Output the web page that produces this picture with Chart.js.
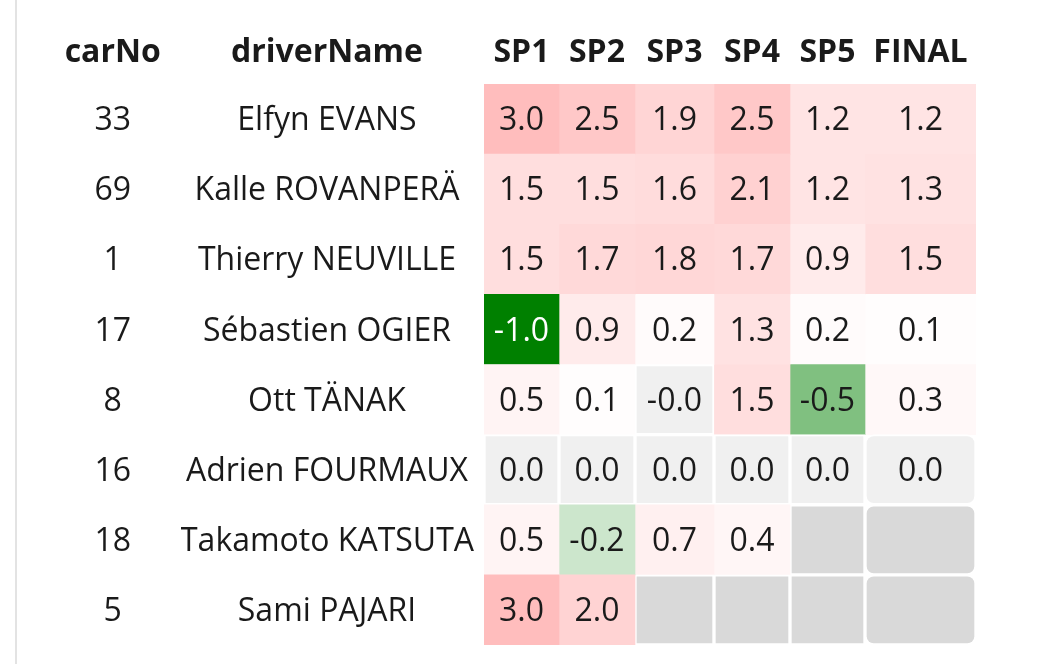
<!DOCTYPE html>
<html>
<head>
<meta charset="utf-8">
<script src="https://cdn.jsdelivr.net/npm/chart.js@4.4.1/dist/chart.umd.min.js"></script>
<style>
  body { margin: 0; background: #fff; }
  #wrap { position: relative; width: 1038px; height: 664px; }
</style>
</head>
<body>
<div id="wrap"><canvas id="heat"></canvas></div>
<script>
const carNos = ['33', '69', '1', '17', '8', '16', '18', '5'];
const driverNames = ['Elfyn EVANS', 'Kalle ROVANPERÄ', 'Thierry NEUVILLE', 'Sébastien OGIER',
    'Ott TÄNAK', 'Adrien FOURMAUX', 'Takamoto KATSUTA', 'Sami PAJARI'];
const stages = ['SP1', 'SP2', 'SP3', 'SP4', 'SP5', 'FINAL'];

// values per stage, in driver order (null = stage not run)
const sp1 = [3.0, 1.5, 1.5, -1.0, 0.5, 0.0, 0.5, 3.0];
const sp2 = [2.5, 1.5, 1.7, 0.9, 0.1, 0.0, -0.2, 2.0];
const sp3 = [1.9, 1.6, 1.8, 0.2, -0.02, 0.0, 0.7, null];
const sp4 = [2.5, 2.1, 1.7, 1.3, 1.5, 0.0, 0.4, null];
const sp5 = [1.2, 1.2, 0.9, 0.2, -0.5, 0.0, null, null];
const final = [1.2, 1.3, 1.5, 0.1, 0.3, 0.0, null, null];
const stageValues = [sp1, sp2, sp3, sp4, sp5, final];

// layout only: pixel width of each stage column
const cellWidths = [75, 76, 79, 76, 75, 111];

const textColor = '#1a1a1a';
Chart.defaults.font.family = '"Open Sans", sans-serif';

function isBlank(v) {
    return v === null || Math.abs(v) < 0.05;
}

function cellColor(v) {
    if (v === null) return '#d9d9d9';
    if (Math.abs(v) < 0.05) return '#f0f0f0';
    if (v > 0) {
        const a = Math.min(v / 3.0, 1) * 0.26;
        const c = Math.round(255 * (1 - a));
        return `rgb(255,${c},${c})`;
    }
    const t = Math.min(-v / 1.0, 1);
    const rb = Math.round(255 * (1 - t));
    return `rgb(${rb},${Math.round(255 - 127 * t)},${rb})`;
}

const datasets = stages.map((s, i) => ({
    label: s,
    data: driverNames.map(() => cellWidths[i]),
    backgroundColor: ctx => cellColor(stageValues[i][ctx.dataIndex]),
    borderColor: '#ffffff',
    borderWidth: ctx => isBlank(stageValues[i][ctx.dataIndex]) ? 2 : 0,
    borderRadius: ctx => isBlank(stageValues[i][ctx.dataIndex]) ? 9 : 0,
    borderSkipped: false,
    barPercentage: 1,
    categoryPercentage: 1,
}));

function widest(ctx, labels, font) {
    ctx.font = font;
    return Math.max(...labels.map(l => ctx.measureText(l).width));
}

// fixed column widths, and no extra label padding above/below the rows
function fixAxis(width) {
    return s => {
        s.width = width;
        s.paddingTop = 0;
        s.paddingBottom = 0;
    };
}

const cellText = {
    id: 'cellText',
    beforeDraw(chart) {
        const c = chart.ctx;
        c.save();
        c.fillStyle = '#e3e3e3';
        c.fillRect(15, 0, 2, chart.height);
        c.restore();
    },
    afterDatasetsDraw(chart) {
        const c = chart.ctx;
        c.save();
        c.textAlign = 'center';
        c.textBaseline = 'middle';
        c.font = '32px "Open Sans"';
        stageValues.forEach((vals, i) => {
            chart.getDatasetMeta(i).data.forEach((bar, j) => {
                const v = vals[j];
                if (v === null) return;
                c.fillStyle = v <= -0.6 ? '#ffffff' : textColor;
                c.fillText(v.toFixed(1), (bar.x + bar.base) / 2, bar.y + 2);
            });
        });

        // column headers
        const headY = 53;
        const yS = chart.scales.y;
        const cS = chart.scales.carNo;
        const nameX = yS.right - yS.options.ticks.padding - widest(c, driverNames, '32px "Open Sans"') / 2;
        const carX = cS.right - cS.options.ticks.padding - widest(c, carNos, '32px "Open Sans"') / 2;
        c.font = 'bold 32px "Open Sans"';
        c.fillStyle = textColor;
        c.fillText('carNo', carX, headY);
        c.fillText('driverName', nameX, headY);
        stages.forEach((s, i) => {
            const bar = chart.getDatasetMeta(i).data[0];
            c.fillText(s, (bar.x + bar.base) / 2, headY);
        });
        c.restore();
    }
};

const tickFont = { size: 32 };

new Chart(document.getElementById('heat'), {
    type: 'bar',
    data: { labels: driverNames, datasets },
    options: {
        indexAxis: 'y',
        responsive: true,
        maintainAspectRatio: false,
        animation: false,
        layout: { padding: { top: 84, bottom: 19, left: 0, right: 62 } },
        plugins: {
            legend: { display: false },
            tooltip: { enabled: false },
        },
        scales: {
            x: {
                stacked: true,
                display: false,
                min: 0,
                max: cellWidths.reduce((a, b) => a + b, 0),
            },
            y: {
                stacked: true,
                weight: 0,
                grid: { display: false, drawTicks: false },
                border: { display: false },
                ticks: { crossAlign: 'center', padding: 10, labelOffset: 2, font: tickFont, color: textColor, autoSkip: false },
                afterFit: fixAxis(303),
            },
            carNo: {
                type: 'category',
                labels: carNos,
                position: 'left',
                offset: true,
                weight: 10,
                grid: { display: false, drawTicks: false },
                border: { display: false },
                ticks: { crossAlign: 'center', padding: 50, labelOffset: 2, font: tickFont, color: textColor, autoSkip: false },
                afterFit: fixAxis(181),
            },
        },
    },
    plugins: [cellText],
});
</script>
</body>
</html>
